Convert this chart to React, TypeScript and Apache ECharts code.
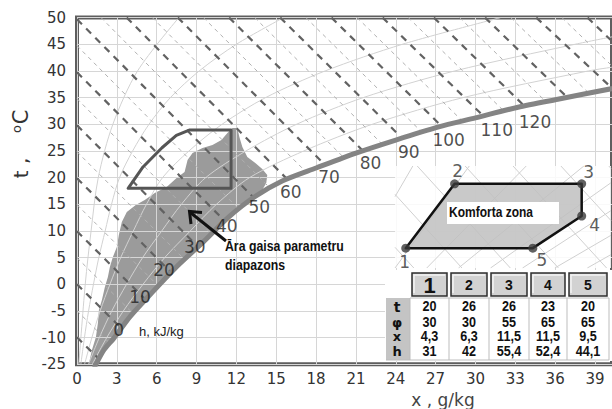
import { useEffect, useRef } from "react";
import * as echarts from "echarts";

// ---------------- data ----------------
// saturation curve (phi = 100 %), [x g/kg, t °C]
const saturationCurve: number[][] = [
  [1.3, -15.6], [1.43, -14.95], [2.03, -12.3], [2.78, -10.1], [3.98, -6.1], [5.63, -1.6], [7.5, 3.3],
  [9.53, 8.0], [11.33, 12.42], [13.35, 16.36], [15.45, 19.36], [18.0, 21.8], [21.0, 24.6],
  [24.0, 27.05], [27.23, 29.5], [30.0, 31.2], [33.2, 33.2], [36.2, 34.7], [40.3, 36.7],
];

// relative humidity curves
const rh10: number[][] = [[0.14, -15], [0.62, 0], [1.06, 10], [1.6, 20], [2.7, 30], [4.56, 40], [7.67, 50]];
const rh20: number[][] = [
  [0.29, -15], [0.56, -10], [0.87, -5], [1.24, 0], [1.64, 5], [2.12, 10], [2.6, 15], [3.2, 20],
  [4.19, 25], [5.42, 30], [7.03, 35], [9.2, 40], [12.0, 45], [15.55, 50],
];
const rh40: number[][] = [
  [0.57, -15], [1.12, -10], [1.74, -5], [2.48, 0], [3.29, 5], [4.24, 10], [5.23, 15], [6.44, 20],
  [8.43, 25], [10.92, 30], [14.2, 35], [18.68, 40], [24.5, 45], [31.9, 50],
];
const rh60: number[][] = [
  [0.86, -15], [1.68, -10], [2.62, -5], [3.73, 0], [4.94, 5], [6.38, 10], [7.86, 15], [9.69, 20],
  [12.72, 25], [16.53, 30], [21.55, 35], [28.44, 40], [37.5, 45], [40.3, 46.4],
];
const rh80: number[][] = [
  [1.15, -15], [2.24, -10], [3.49, -5], [4.97, 0], [6.6, 5], [8.53, 10], [10.5, 15], [12.99, 20],
  [17.08, 25], [22.23, 30], [29.07, 35], [38.5, 40], [40.3, 40.7],
];

// enthalpy lines h (kJ/kg) with their visible ends
const enthalpyValues = [
  -10, -5, 0, 5, 10, 15, 20, 25, 30, 35, 40, 45, 50, 55, 60, 65, 70, 75, 80, 85, 90, 95, 100,
  105, 110, 115, 120, 125, 130, 135, 140, 145, 150,
];
const enthalpyStart: number[][] = [
  [0, -9.94], [0, -4.97], [0, 0], [0, 4.97], [0, 9.94], [0, 14.91], [0, 19.88], [0, 24.85],
  [0, 29.82], [0, 34.79], [0, 39.76], [0, 44.73], [0, 49.7], [1.81, 50], [3.74, 50], [5.67, 50],
  [7.59, 50], [9.52, 50], [11.45, 50], [13.38, 50], [15.3, 50], [17.23, 50], [19.16, 50],
  [21.09, 50], [23.01, 50], [24.94, 50], [26.87, 50], [28.8, 50], [30.72, 50], [32.65, 50],
  [34.58, 50], [36.51, 50], [38.44, 50],
];
const enthalpyEnd: number[][] = [
  [1.65, -14.0], [2.46, -11.04], [3.34, -8.24], [4.21, -5.46], [5.16, -2.87], [6.12, -0.31],
  [7.09, 2.23], [8.09, 4.66], [9.11, 7.04], [10.12, 9.45], [11.11, 11.89], [12.19, 14.1],
  [13.3, 16.25], [14.53, 18.05], [15.82, 19.72], [17.24, 21.07], [18.66, 22.41], [20.09, 23.75],
  [21.53, 25.03], [23.0, 26.23], [24.47, 27.41], [25.96, 28.53], [27.45, 29.64], [29.02, 30.6],
  [30.59, 31.57], [32.12, 32.53], [33.68, 33.44], [35.3, 34.25], [36.91, 35.05], [38.53, 35.85],
  [40.3, 36.72], [40.3, 40.9], [40.3, 45.52],
];

// enthalpy scale labels
const enthalpyLabelValues = [0, 10, 20, 30, 40, 50, 60, 70, 80, 90, 100, 110, 120];
const enthalpyLabelX = [3.13, 4.75, 6.55, 8.87, 11.27, 13.73, 16.1, 18.98, 22.1, 24.98, 27.98, 31.6, 34.48];
const enthalpyLabelT = [-8.58, -2.45, 2.67, 7.04, 10.92, 14.43, 17.35, 20.17, 22.79, 24.85, 27.05, 28.92, 30.48];

// outdoor air parameter range (shaded area)
const outdoorRange: number[][] = [
  [0.9, -14.9], [1.125, -12.33], [1.425, -9.89], [1.575, -7.26], [1.65, -4.83], [1.875, -2.95],
  [2.1, -0.51], [2.325, 1.36], [2.475, 3.24], [2.7, 5.11], [3.0, 6.99], [3.15, 9.24], [3.375, 11.68],
  [3.75, 13.55], [4.425, 14.86], [5.1, 15.8], [5.85, 17.11], [6.75, 18.24], [7.5, 19.92], [8.1, 21.05],
  [8.325, 23.3], [8.7, 24.61], [9.45, 25.55], [10.2, 26.11], [10.875, 27.05], [11.325, 28.36],
  [11.7, 29.3], [12.075, 29.3], [12.225, 27.61], [12.45, 25.74], [12.825, 23.86], [13.425, 22.74],
  [13.95, 21.61], [14.325, 20.49], [14.25, 18.99], [13.95, 17.68], [13.35, 16.36], [11.33, 12.42],
  [9.53, 8.0], [7.5, 3.3], [5.63, -1.6], [3.98, -6.1], [2.78, -10.1], [2.03, -12.3], [1.43, -14.9],
];

// comfort zone outline on the main chart
const comfortZoneMain: number[][] = [
  [3.85, 18.0], [4.97, 22.0], [6.4, 25.6], [7.48, 27.9], [8.45, 28.92], [11.6, 28.92], [11.6, 18.0], [3.85, 18.0],
];

// comfort zone points (table)
const pointNames = ["1", "2", "3", "4", "5"];
const pointT = [20, 26, 26, 23, 20];
const pointPhi = [30, 30, 55, 65, 65];
const pointX = [4.3, 6.3, 11.5, 11.5, 9.5];
const pointH = [31, 42, 55.4, 52.4, 44.1];

// faint lines of the zoomed inset chart
const insetEnthalpyLines: number[][][] = [
  [[3.86, 20.08], [4.63, 18.15]], [[3.86, 25.02], [6.6, 18.15]], [[4.77, 27.66], [8.58, 18.15]],
  [[6.73, 27.66], [10.55, 18.15]], [[8.69, 27.66], [12.52, 18.15]], [[10.65, 27.66], [12.7, 22.57]],
  [[12.61, 27.66], [12.7, 27.43]],
];
const insetRhLines: number[][][] = [
  [[3.86, 24.8], [4.59, 27.66]], [[3.86, 18.15], [6.9, 27.66]], [[5.16, 18.15], [9.23, 27.66]],
  [[6.46, 18.15], [11.59, 27.66]], [[7.77, 18.15], [12.7, 26.1]], [[9.08, 18.15], [12.7, 23.5]],
  [[10.4, 18.15], [12.7, 21.2]], [[11.73, 18.15], [12.7, 19.4]],
];

// ---------------- styling ----------------
const FONT = "DejaVu Sans";
const BOLD_SANS = "'Liberation Sans', Arial, sans-serif";
const pointLabelOffsets = [[-1, 14], [3, -13], [7, -12], [13, 9], [9, 12]];

function buildTable(): any[] {
  const els: any[] = [];
  const colEdges = [410, 449, 489, 529, 567, 609];
  const rowCenters = [306.5, 322, 336.5, 351.5];
  const rowSymbols = ["t", "φ", "x", "h"];
  const rowSizes = [14, 13, 13, 13];
  const rows = [pointT, pointPhi, pointX, pointH];
  const fmt = (v: number) => String(v).replace(".", ",");
  els.push({ type: "rect", z: 30, shape: { x: 385, y: 270, width: 227, height: 91 }, style: { fill: "#ffffff" } });
  els.push({ type: "rect", z: 31, shape: { x: 386, y: 298, width: 24, height: 62 }, style: { fill: "#c4c4c4" } });
  for (let i = 0; i < 5; i++) {
    const x0 = colEdges[i] + 2;
    const w = colEdges[i + 1] - colEdges[i] - 4;
    els.push({ type: "rect", z: 31, shape: { x: x0, y: 273, width: w, height: 23 }, style: { fill: "#d2d2d2", stroke: "#2e2e2e", lineWidth: 1.5 } });
    els.push({ type: "polyline", z: 32, shape: { points: [[x0 + 2, 293], [x0 + 2, 275], [x0 + w - 2, 275]] }, style: { stroke: "#f4f4f4", lineWidth: 1.5, fill: null } });
    els.push({
      type: "text", z: 33, x: (colEdges[i] + colEdges[i + 1]) / 2, y: 285,
      style: { text: pointNames[i], font: `bold ${i === 0 ? 22 : 14}px ${BOLD_SANS}`, fill: "#111", align: "center", verticalAlign: "middle" },
    });
  }
  for (const e of colEdges) {
    els.push({ type: "line", z: 31, shape: { x1: e, y1: 298, x2: e, y2: 360 }, style: { stroke: "#bdbdbd", lineWidth: 1 } });
  }
  els.push({ type: "line", z: 31, shape: { x1: 386, y1: 360, x2: 609, y2: 360 }, style: { stroke: "#bdbdbd", lineWidth: 1 } });
  els.push({ type: "line", z: 31, shape: { x1: 410, y1: 298, x2: 609, y2: 298 }, style: { stroke: "#bdbdbd", lineWidth: 1 } });
  for (let r = 0; r < 4; r++) {
    els.push({
      type: "text", z: 33, x: 397, y: rowCenters[r],
      style: { text: rowSymbols[r], font: `bold ${rowSizes[r]}px ${FONT}`, fill: "#111", align: "center", verticalAlign: "middle" },
    });
    for (let i = 0; i < 5; i++) {
      els.push({
        type: "text", z: 33, x: (colEdges[i] + colEdges[i + 1]) / 2, y: rowCenters[r], scaleX: 0.9,
        style: { text: fmt(rows[r][i]), font: `bold 14px ${BOLD_SANS}`, fill: "#111", align: "center", verticalAlign: "middle" },
      });
    }
  }
  return els;
}

export default function App() {
  const ref = useRef<HTMLDivElement>(null);
  useEffect(() => {
    if (!ref.current) return;
    const chart = echarts.init(ref.current, undefined, { renderer: "svg" });

    const thinLines: any[] = [];
    const thickLines: any[] = [];
    enthalpyValues.forEach((h, i) => {
      const item = { coords: [enthalpyStart[i], enthalpyEnd[i]] };
      if (h % 10 === 0) thickLines.push(item);
      else thinLines.push(item);
    });

    const rhSeries = [rh10, rh20, rh40, rh60, rh80].map((d) => ({
      type: "line", xAxisIndex: 0, yAxisIndex: 0, data: d, smooth: 0.3, symbol: "none", silent: true, z: 2,
      lineStyle: { color: "#d2d2d2", width: 1 },
    }));

    const option: any = {
      animation: false,
      backgroundColor: "#ffffff",
      grid: [
        { left: 77, top: 17.6, width: 537, height: 346.7, show: true, borderColor: "#5e5e5e", borderWidth: 4, backgroundColor: "transparent", z: 0 },
        { left: 395, top: 166, width: 216, height: 102, show: true, backgroundColor: "rgba(255,255,255,0.86)", borderWidth: 0, z: 10 },
      ],
      xAxis: [
        {
          type: "value", gridIndex: 0, min: 0, max: 40.28, interval: 3, z: 1,
          axisLine: { show: false }, axisTick: { show: false },
          axisLabel: {
            show: true, margin: 7, fontSize: 15, color: "#333", fontFamily: FONT, showMaxLabel: false,
            formatter: (v: number) => (Math.abs(v % 3) < 1e-6 ? String(v) : ""),
          },
          splitLine: { show: true, lineStyle: { color: "#d6d6d6", width: 1 } },
        },
        { type: "value", gridIndex: 1, min: 3.86, max: 12.7, show: false },
      ],
      yAxis: [
        {
          type: "value", gridIndex: 0, min: -15, max: 50, interval: 5, z: 1,
          axisLine: { show: false }, axisTick: { show: false },
          axisLabel: {
            show: true, margin: 11, fontSize: 15, color: "#333", fontFamily: FONT,
            formatter: (v: number) => (v === -15 ? "-25" : String(v)),
          },
          splitLine: { show: true, lineStyle: { color: "#d6d6d6", width: 1 } },
        },
        { type: "value", gridIndex: 1, min: 18.15, max: 27.66, show: false },
      ],
      series: [
        {
          type: "custom", xAxisIndex: 0, yAxisIndex: 0, z: 0, silent: true, data: [[0, 0]],
          renderItem: (_p: any, api: any) => ({
            type: "polygon",
            shape: { points: outdoorRange.map((p) => api.coord(p)) },
            style: { fill: "#9b9b9b", stroke: "none" },
          }),
        },
        ...rhSeries,
        {
          type: "lines", coordinateSystem: "cartesian2d", xAxisIndex: 0, yAxisIndex: 0, silent: true, z: 3,
          lineStyle: { color: "#b0b0b0", width: 1, type: [4, 4], opacity: 1 }, data: thinLines,
        },
        {
          type: "lines", coordinateSystem: "cartesian2d", xAxisIndex: 0, yAxisIndex: 0, silent: true, z: 3,
          lineStyle: { color: "#626262", width: 2.2, type: [7, 6], opacity: 1 }, data: thickLines,
        },
        {
          type: "line", xAxisIndex: 0, yAxisIndex: 0, data: saturationCurve, smooth: 0.25, symbol: "none", silent: true, z: 4,
          lineStyle: { color: "#848484", width: 5 },
        },
        {
          type: "line", xAxisIndex: 0, yAxisIndex: 0, data: comfortZoneMain, smooth: false, symbol: "none", silent: true, z: 5,
          lineStyle: { color: "#555555", width: 3, join: "round", cap: "round" },
        },
        {
          type: "scatter", xAxisIndex: 0, yAxisIndex: 0, silent: true, z: 6, symbolSize: 1,
          itemStyle: { color: "transparent" },
          data: enthalpyLabelValues.map((h, i) => [enthalpyLabelX[i], enthalpyLabelT[i], h]),
          label: {
            show: true, position: "inside", fontSize: 17, color: "#1e1e1e", fontFamily: FONT,
            formatter: (p: any) => String(p.value[2]),
          },
        },
        // inset
        {
          type: "lines", coordinateSystem: "cartesian2d", xAxisIndex: 1, yAxisIndex: 1, silent: true, z: 11,
          lineStyle: { color: "#d0d0d0", width: 1, opacity: 1 },
          data: [...insetEnthalpyLines, ...insetRhLines].map((c) => ({ coords: c })),
        },
        {
          type: "custom", xAxisIndex: 1, yAxisIndex: 1, z: 12, silent: true, data: [[0, 0]],
          renderItem: (_p: any, api: any) => ({
            type: "polygon",
            shape: { points: pointX.map((x, i) => api.coord([x, pointT[i]])) },
            style: { fill: "rgba(192,192,192,0.85)", stroke: "#111111", lineWidth: 2.5, lineJoin: "round" },
          }),
        },
        {
          type: "scatter", xAxisIndex: 1, yAxisIndex: 1, silent: true, z: 13, symbolSize: 9,
          itemStyle: { color: "#3a3a3a" },
          data: pointX.map((x, i) => ({
            value: [x, pointT[i]], name: pointNames[i],
            label: { offset: pointLabelOffsets[i] },
          })),
          label: {
            show: true, position: "inside", fontSize: 17, color: "#333", fontFamily: FONT,
            formatter: (p: any) => p.name,
          },
        },
      ],
      graphic: [
        { type: "text", z: 20, x: 21, y: 168, rotation: Math.PI / 2, style: { text: "t ,", font: `20px ${FONT}`, fill: "#333", align: "center", verticalAlign: "middle" } },
        { type: "text", z: 20, x: 21, y: 117, rotation: Math.PI / 2, style: { text: "C", font: `21px ${FONT}`, fill: "#333", align: "center", verticalAlign: "middle" } },
        { type: "text", z: 20, x: 16, y: 129, rotation: Math.PI / 2, style: { text: "o", font: `13px ${FONT}`, fill: "#333", align: "center", verticalAlign: "middle" } },
        { type: "text", z: 20, x: 443, y: 400, style: { text: "x , g/kg", font: `17px ${FONT}`, fill: "#444", align: "center", verticalAlign: "middle" } },
        { type: "text", z: 20, x: 139, y: 331, style: { text: "h, kJ/kg", font: `13px ${BOLD_SANS}`, fill: "#222", align: "left", verticalAlign: "middle" } },
        { type: "text", z: 20, x: 225, y: 246, scaleX: 0.82, style: { text: "Āra gaisa parametru", font: `bold 15px ${BOLD_SANS}`, fill: "#111", align: "left", verticalAlign: "middle" } },
        { type: "text", z: 20, x: 225, y: 265, scaleX: 0.82, style: { text: "diapazons", font: `bold 15px ${BOLD_SANS}`, fill: "#111", align: "left", verticalAlign: "middle" } },
        { type: "line", z: 20, shape: { x1: 226, y1: 241, x2: 191, y2: 213 }, style: { stroke: "#111", lineWidth: 3 } },
        { type: "polyline", z: 20, shape: { points: [[202, 212.5], [189.5, 211.5], [191, 224]] }, style: { stroke: "#111", lineWidth: 3, fill: null } },
        { type: "rect", z: 20, shape: { x: 447, y: 202, width: 112, height: 22 }, style: { fill: "#ffffff" } },
        { type: "text", z: 21, x: 449, y: 212.5, scaleX: 0.8, style: { text: "Komforta zona", font: `bold 15px ${BOLD_SANS}`, fill: "#111", align: "left", verticalAlign: "middle" } },
        ...buildTable(),
      ],
    };
    chart.setOption(option);
    return () => chart.dispose();
  }, []);
  return <div ref={ref} style={{ position: "fixed", left: 0, top: 0, width: 612, height: 409 }} />;
}
